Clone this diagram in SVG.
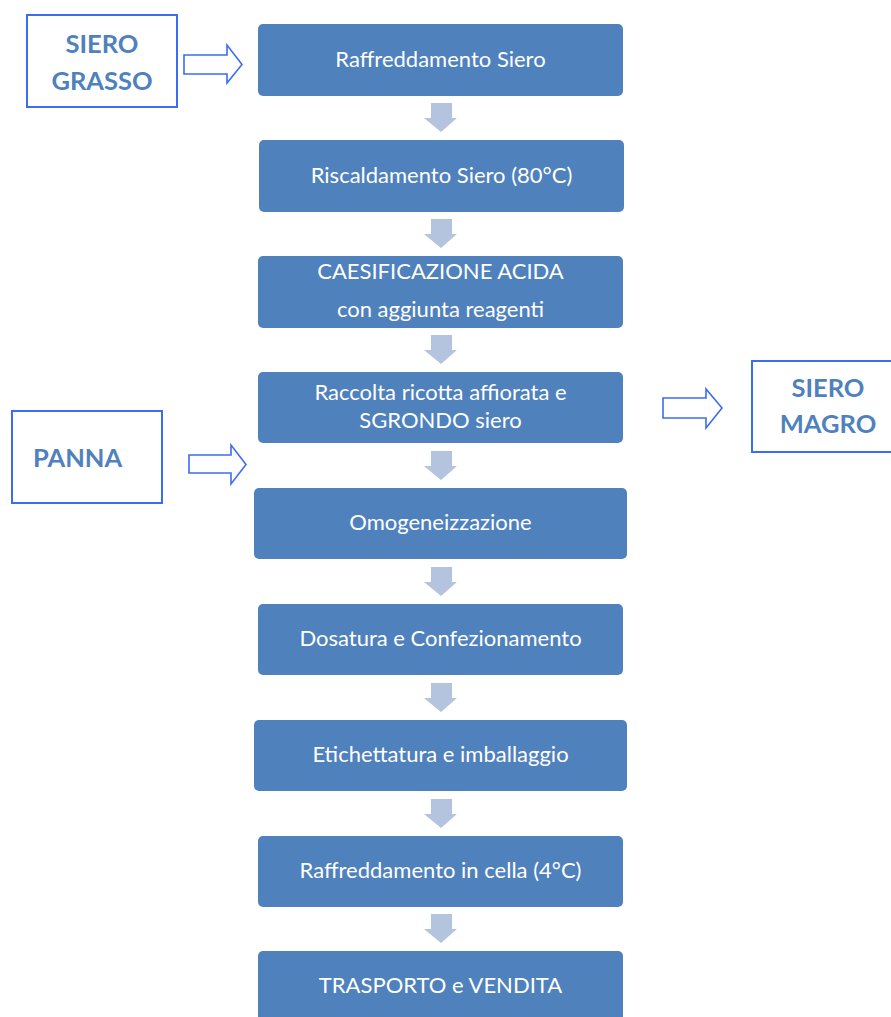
<svg xmlns="http://www.w3.org/2000/svg" width="891" height="1017" viewBox="0 0 891 1017">
<style>
.box{fill:#4f81bd}
.bt{fill:#ffffff;font-family:Lato,"Open Sans",sans-serif;font-size:22px;text-anchor:middle}
.side{fill:#ffffff;stroke:#3b6cf5;stroke-width:2}
.st{fill:#4f81bd;font-family:Lato,"Open Sans",sans-serif;font-size:25.5px;font-weight:bold;text-anchor:middle}
.down{fill:#b4c4df}
.blk{fill:#ffffff;stroke:#3b6cf5;stroke-width:1.6}
</style>
<defs>
<path id="dn" d="M431,103 H452 V118 H457 L441,132 L424,118 H431 Z"/>
</defs>
<rect width="891" height="1017" fill="#ffffff"/>
<g id="n1"><rect class="box" x="258" y="24" width="365" height="72" rx="5"/><text class="bt" x="440.5" y="67">Raffreddamento Siero</text></g>
<g id="n2"><rect class="box" x="259" y="140" width="365" height="72" rx="5"/><text class="bt" x="441.5" y="183">Riscaldamento Siero (80°C)</text></g>
<g id="n3"><rect class="box" x="258" y="256" width="365" height="72" rx="5"/><text class="bt" x="440.5" y="279">CAESIFICAZIONE ACIDA</text><text class="bt" x="440.5" y="317">con aggiunta reagenti</text></g>
<g id="n4"><rect class="box" x="258" y="372" width="365" height="71" rx="5"/><text class="bt" x="440.5" y="400">Raccolta ricotta affiorata e</text><text class="bt" x="440.5" y="428">SGRONDO siero</text></g>
<g id="n5"><rect class="box" x="254" y="488" width="373" height="71" rx="5"/><text class="bt" x="440.5" y="530">Omogeneizzazione</text></g>
<g id="n6"><rect class="box" x="258" y="604" width="365" height="71" rx="5"/><text class="bt" x="440.5" y="646">Dosatura e Confezionamento</text></g>
<g id="n7"><rect class="box" x="254" y="720" width="373" height="71" rx="5"/><text class="bt" x="440.5" y="762">Etichettatura e imballaggio</text></g>
<g id="n8"><rect class="box" x="258" y="836" width="365" height="71" rx="5"/><text class="bt" x="440.5" y="878">Raffreddamento in cella (4°C)</text></g>
<g id="n9"><rect class="box" x="258" y="951" width="365" height="80" rx="5"/><text class="bt" x="440.5" y="993">TRASPORTO e VENDITA</text></g>
<g id="siero-grasso"><rect class="side" x="27" y="15" width="150" height="92"/><text class="st" x="102" y="53">SIERO</text><text class="st" x="102" y="90">GRASSO</text></g>
<g id="panna"><rect class="side" x="12" y="411" width="150" height="92"/><text class="st" x="33" y="467" style="text-anchor:start">PANNA</text></g>
<g id="siero-magro"><rect class="side" x="752" y="361" width="150" height="91"/><text class="st" x="828" y="397">SIERO</text><text class="st" x="828" y="433">MAGRO</text></g>
<g id="connectors">
<use href="#dn" class="down"/>
<use href="#dn" class="down" y="116"/>
<use href="#dn" class="down" y="232"/>
<use href="#dn" class="down" y="348"/>
<use href="#dn" class="down" y="464"/>
<use href="#dn" class="down" y="580"/>
<use href="#dn" class="down" y="696"/>
<use href="#dn" class="down" y="811"/>
<path class="blk" d="M184,55 H227 V45 L242,64.5 L227,83 V74 H184 Z"/>
<path class="blk" d="M189,455 H231 V445 L246,464.5 L231,484 V473 H189 Z"/>
<path class="blk" d="M663,398 H706 V389 L722,408 L706,428 V418 H663 Z"/>
</g>
</svg>
